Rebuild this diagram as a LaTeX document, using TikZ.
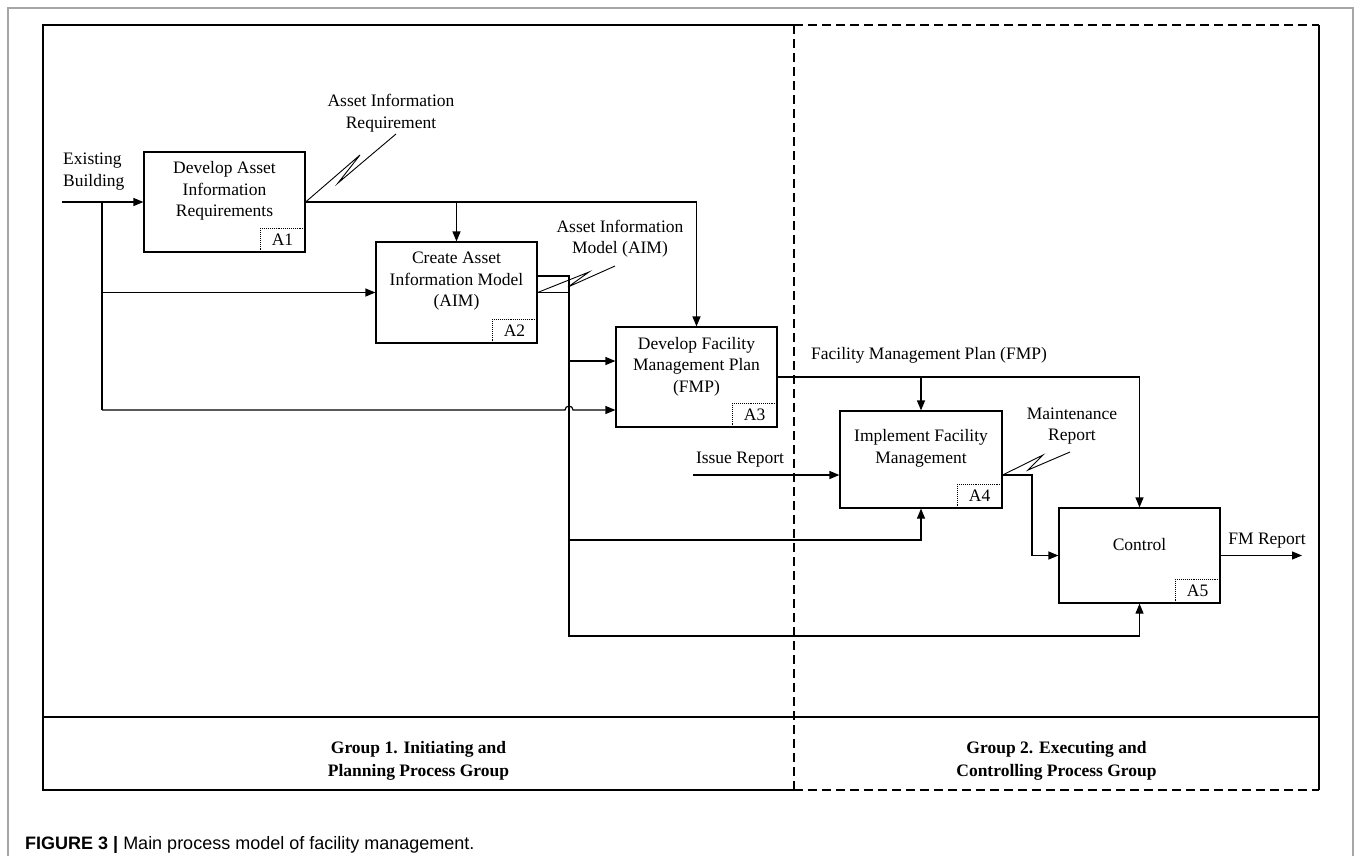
\documentclass[tikz,border=0pt]{standalone}
\usepackage{fontspec}
\setmainfont{Liberation Serif}
\setsansfont{Liberation Sans}
\usetikzlibrary{arrows.meta}
\begin{document}
\begin{tikzpicture}[x=1pt,y=-1pt,
  every node/.style={inner sep=0pt},
  procbox/.style={draw, line width=1.2pt, rectangle},
  tagbox/.style={draw, densely dotted, line width=1.1pt, minimum width=45pt, minimum height=24pt, anchor=south east, font=\fontsize{17.5}{21}\selectfont},
  ptext/.style={align=center, font=\fontsize{17.5}{21.5}\selectfont},
  flow/.style={line width=1.2pt, -{Triangle[length=10pt,width=8pt]}},
  wire/.style={line width=1.2pt},
  squig/.style={line width=0.9pt},
  frame/.style={line width=1.3pt},
  dframe/.style={line width=1.3pt, dash pattern=on 9pt off 5pt},
  grp/.style={align=center, font=\bfseries\fontsize{17.5}{23}\selectfont}
]
\useasboundingbox (0,0) rectangle (1356,855);
% outer gray frame
\draw[gray!70, line width=1.5pt] (8,880) -- (8,8) -- (1353,8) -- (1353,880);
% inner frame
\draw[frame] (794,25) -- (43,25) -- (43,790) -- (794,790);
\draw[dframe] (794,25) -- (1319,25);
\draw[frame] (1319,25) -- (1319,790);
\draw[dframe] (794,790) -- (1319,790);
\draw[dframe] (794,25) -- (794,790);
\draw[frame] (43,717) -- (1319,717);

% process boxes
\node[procbox, minimum width=161pt, minimum height=100pt] (a1) at (224.5,202) {};
\node[procbox, minimum width=161pt, minimum height=101pt] (a2) at (456.5,292.5) {};
\node[procbox, minimum width=161pt, minimum height=100pt] (a3) at (696.5,377) {};
\node[procbox, minimum width=162pt, minimum height=97pt] (a4) at (921,459.5) {};
\node[procbox, minimum width=161pt, minimum height=95pt] (a5) at (1139.5,555.5) {};
\node[tagbox] (t1) at (a1.south east) {A1};
\node[tagbox] (t2) at (a2.south east) {A2};
\node[tagbox] (t3) at (a3.south east) {A3};
\node[tagbox] (t4) at (a4.south east) {A4};
\node[tagbox] (t5) at (a5.south east) {A5};
\node[ptext] (a1t) at (224.5,191) {Develop Asset\\Information\\Requirements};
\node[ptext] (a2t) at (456.5,281.5) {Create Asset\\Information Model\\(AIM)};
\node[ptext] (a3t) at (696.5,366.5) {Develop Facility\\Management Plan\\(FMP)};
\node[ptext] (a4t) at (921,448.5) {Implement Facility\\Management};
\node[ptext] (a5t) at (1139.5,545) {Control};

% labels
\node[ptext, align=left, anchor=west] (lEB) at (63,171.5) {Existing\\Building};
\node[ptext] (lAIR) at (391,113) {Asset Information\\Requirement};
\node[ptext] (lAIM) at (620,238.5) {Asset Information\\Model (AIM)};
\node[ptext] (lFMP) at (929,355) {Facility Management Plan (FMP)};
\node[ptext] (lIR) at (740,460) {Issue Report};
\node[ptext] (lMR) at (1072,426) {Maintenance\\Report};
\node[ptext] (lFMR) at (1267,541) {FM Report};
\node[grp] (g1) at (418.5,761) {Group 1. Initiating and\\Planning Process Group};
\node[grp] (g2) at (1056.5,761) {Group 2. Executing and\\Controlling Process Group};
\node[anchor=west, font=\fontsize{18}{21}\sffamily] (cap) at (25,845) {\textbf{FIGURE 3 |} Main process model of facility management.};

% coordinates
\coordinate (eb) at (62,202);
\coordinate (j1) at (102,202);
\coordinate (j1c) at (102,410);
\coordinate (hopL) at (565,410);
\coordinate (a3i1) at ([yshift=16pt]a3.west);
\coordinate (a3i2) at ([yshift=-33pt]a3.west);
\coordinate (o2a) at ([yshift=16.5pt]a2.east);
\coordinate (v) at (569,276);
\coordinate (vbot) at (569,636);
\coordinate (j4) at (569,540);
\coordinate (iss) at (693,475);
\coordinate (a4o) at (iss -| a4.east);
\coordinate (mrv) at (1032,475);
\coordinate (fmr) at (1302,555.5);

% connectors
\draw[flow] (eb) -- (a1.west);
\draw[flow] (j1) |- (a2.west);
\draw[wire] (j1) -- (j1c);
\draw[flow] (j1c) -- (hopL) arc (180:360:4) -- (a3i2);
\draw[flow] (a1.east) -| (a3.north);
\draw[flow] (a2.north |- a1.east) -- (a2.north);
\draw[flow] (o2a) -- (v) -- (vbot) -| (a5.south);
\draw[wire] (a2.east) -- (a2.east -| v);
\draw[flow] (v |- a3i1) -- (a3i1);
\draw[flow] (j4) -| (a4.south);
\draw[flow] (a3.east) -| (a5.north);
\draw[flow] (a4.north |- a3.east) -- (a4.north);
\draw[flow] (iss) -- (iss -| a4.west);
\draw[flow] (a4o) -- (mrv) |- (a5.west);
\draw[flow] (a5.east) -- (fmr);

% squiggles
\draw[squig] (a1.east) -- (360,155) -- (338,183) -- (396,134);
\draw[squig] (a2.east) -- (589,272) -- (568,287) -- (615,266);
\draw[squig] (a4o) -- (1043,455) -- (1028,470) -- (1070,452);
\end{tikzpicture}
\end{document}
